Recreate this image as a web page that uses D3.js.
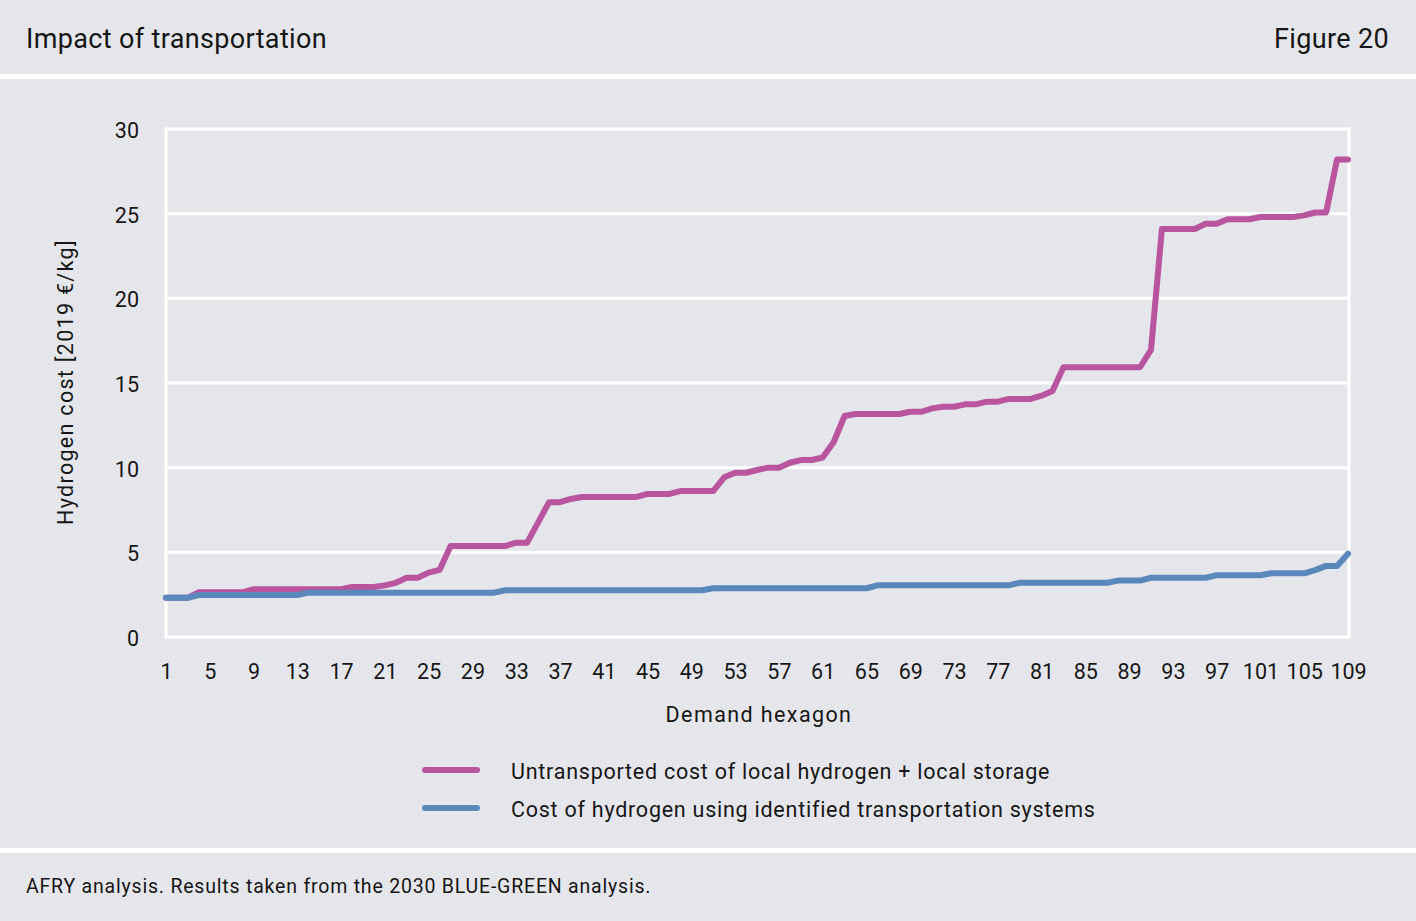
<!DOCTYPE html>
<html>
<head>
<meta charset="utf-8">
<script src="https://cdnjs.cloudflare.com/ajax/libs/d3/7.8.5/d3.min.js"></script>
<style>
  body { margin: 0; background: #e5e6eb; }
  svg { display: block; font-family: Roboto, "Liberation Sans", sans-serif; }
</style>
</head>
<body>
<svg></svg>
<script>
// demand hexagons 1..109
const hexagons = d3.range(1, 110);

const untransported = [
  2.32, 2.32, 2.32, 2.64, 2.64, 2.64, 2.64, 2.64, 2.82, 2.82,
  2.82, 2.82, 2.82, 2.82, 2.82, 2.82, 2.82, 2.95, 2.95, 2.95,
  3.05, 3.2, 3.5, 3.5, 3.8, 3.96, 5.37, 5.37, 5.37, 5.37,
  5.37, 5.37, 5.57, 5.57, 6.77, 7.96, 7.96, 8.15, 8.27, 8.27,
  8.27, 8.27, 8.27, 8.27, 8.45, 8.45, 8.45, 8.62, 8.62, 8.62,
  8.62, 9.43, 9.7, 9.7, 9.86, 10.0, 10.0, 10.29, 10.45, 10.45,
  10.6, 11.5, 13.05, 13.17, 13.17, 13.17, 13.17, 13.17, 13.3, 13.3,
  13.5, 13.6, 13.6, 13.74, 13.74, 13.9, 13.9, 14.06, 14.06, 14.06,
  14.25, 14.53, 15.93, 15.93, 15.93, 15.93, 15.93, 15.93, 15.93, 15.93,
  16.95, 24.1, 24.1, 24.1, 24.1, 24.4, 24.4, 24.67, 24.67, 24.67,
  24.8, 24.8, 24.8, 24.8, 24.9, 25.07, 25.07, 28.2, 28.2
];

const transported = [
  2.32, 2.32, 2.32, 2.48, 2.48, 2.48, 2.48, 2.48, 2.48, 2.48,
  2.48, 2.48, 2.48, 2.62, 2.62, 2.62, 2.62, 2.62, 2.62, 2.62,
  2.62, 2.62, 2.62, 2.62, 2.62, 2.62, 2.62, 2.62, 2.62, 2.62,
  2.62, 2.76, 2.76, 2.76, 2.76, 2.76, 2.76, 2.76, 2.76, 2.76,
  2.76, 2.76, 2.76, 2.76, 2.76, 2.76, 2.76, 2.76, 2.76, 2.76,
  2.88, 2.88, 2.88, 2.88, 2.88, 2.88, 2.88, 2.88, 2.88, 2.88,
  2.88, 2.88, 2.88, 2.88, 2.88, 3.05, 3.05, 3.05, 3.05, 3.05,
  3.05, 3.05, 3.05, 3.05, 3.05, 3.05, 3.05, 3.05, 3.2, 3.2,
  3.2, 3.2, 3.2, 3.2, 3.2, 3.2, 3.2, 3.33, 3.33, 3.33,
  3.5, 3.5, 3.5, 3.5, 3.5, 3.5, 3.65, 3.65, 3.65, 3.65,
  3.65, 3.76, 3.76, 3.76, 3.76, 3.95, 4.2, 4.2, 4.92
];

const xTicks = [1, 5, 9, 13, 17, 21, 25, 29, 33, 37, 41, 45, 49, 53, 57,
  61, 65, 69, 73, 77, 81, 85, 89, 93, 97, 101, 105, 109];
const yTicks = [0, 5, 10, 15, 20, 25, 30];

const seriesNames = [
  'Untransported cost of local hydrogen + local storage',
  'Cost of hydrogen using identified transportation systems'
];
const seriesColors = ['#b9549e', '#5b88bb'];

const width = 1416;
const height = 921;
const plot = {left: 166, right: 1348, top: 129, bottom: 637};
const ink = '#161616';

const svg = d3.select('svg')
  .attr('width', width)
  .attr('height', height);

svg.append('rect')
  .attr('width', width)
  .attr('height', height)
  .attr('fill', '#e5e6eb');

// header and footer bands
svg.append('rect').attr('x', 0).attr('y', 74).attr('width', width).attr('height', 5).attr('fill', '#fff');
svg.append('rect').attr('x', 0).attr('y', 848).attr('width', width).attr('height', 5).attr('fill', '#fff');

svg.append('text')
  .attr('x', 26).attr('y', 48)
  .attr('font-size', 27)
  .attr('letter-spacing', 0.35)
  .attr('fill', ink)
  .text('Impact of transportation');

svg.append('text')
  .attr('x', 1389).attr('y', 48)
  .attr('text-anchor', 'end')
  .attr('font-size', 27)
  .attr('letter-spacing', 0.35)
  .attr('fill', ink)
  .text('Figure 20');

svg.append('text')
  .attr('x', 26).attr('y', 893)
  .attr('font-size', 19.5)
  .attr('letter-spacing', 0.8)
  .attr('fill', ink)
  .text('AFRY analysis. Results taken from the 2030 BLUE-GREEN analysis.');

const xScale = d3.scaleLinear().domain([1, 109]).range([plot.left, plot.right]);
const yScale = d3.scaleLinear().domain([0, 30]).range([plot.bottom, plot.top]);

const chart = svg.append('g');

// grid
chart.append('g')
  .selectAll('line')
  .data(yTicks)
  .enter()
  .append('line')
  .attr('x1', plot.left - 1)
  .attr('x2', plot.right + 1)
  .attr('y1', d => yScale(d))
  .attr('y2', d => yScale(d))
  .attr('stroke', '#fff')
  .attr('stroke-width', 3);

chart.append('line')
  .attr('x1', plot.left).attr('x2', plot.left)
  .attr('y1', plot.top - 1.5).attr('y2', plot.bottom + 1.5)
  .attr('stroke', '#fff').attr('stroke-width', 3);
chart.append('line')
  .attr('x1', plot.right + 1).attr('x2', plot.right + 1)
  .attr('y1', plot.top - 1.5).attr('y2', plot.bottom + 1.5)
  .attr('stroke', '#fff').attr('stroke-width', 3);

// axes
const yAxis = chart.append('g')
  .attr('transform', `translate(${plot.left - 27}, 1.5)`)
  .call(d3.axisLeft(yScale).tickValues(yTicks).tickSize(0).tickPadding(0));
yAxis.select('.domain').remove();
yAxis.selectAll('text')
  .attr('font-size', 21.5)
  .attr('font-family', 'Roboto, sans-serif')
  .attr('fill', ink);

const xAxis = chart.append('g')
  .attr('transform', `translate(0, ${plot.bottom + 27})`)
  .call(d3.axisBottom(xScale).tickValues(xTicks).tickSize(0).tickPadding(0));
xAxis.select('.domain').remove();
xAxis.selectAll('text')
  .attr('font-size', 21.5)
  .attr('font-family', 'Roboto, sans-serif')
  .attr('fill', ink);

svg.append('text')
  .attr('x', (plot.left + plot.right) / 2 + 2)
  .attr('y', 722)
  .attr('text-anchor', 'middle')
  .attr('font-size', 21.5)
  .attr('letter-spacing', 1.4)
  .attr('fill', ink)
  .text('Demand hexagon');

svg.append('text')
  .attr('transform', `translate(73, 382) rotate(-90)`)
  .attr('text-anchor', 'middle')
  .attr('font-size', 21.5)
  .attr('letter-spacing', 1.3)
  .attr('fill', ink)
  .text('Hydrogen cost [2019 €/kg]');

// lines
const line = d3.line()
  .x((d, i) => xScale(hexagons[i]))
  .y(d => yScale(d));

[untransported, transported].forEach((values, k) => {
  chart.append('path')
    .datum(values)
    .attr('d', line)
    .attr('fill', 'none')
    .attr('stroke', seriesColors[k])
    .attr('stroke-width', 6)
    .attr('stroke-linejoin', 'round')
    .attr('stroke-linecap', 'round');
});

// legend
const legend = svg.append('g')
  .selectAll('g')
  .data(seriesNames)
  .enter()
  .append('g')
  .attr('transform', (d, i) => `translate(0, ${770 + i * 38})`);

legend.append('line')
  .attr('x1', 425).attr('x2', 477)
  .attr('stroke', (d, i) => seriesColors[i])
  .attr('stroke-width', 6)
  .attr('stroke-linecap', 'round');

legend.append('text')
  .attr('x', 511)
  .attr('y', 9)
  .attr('font-size', 21.5)
  .attr('letter-spacing', 0.75)
  .attr('fill', ink)
  .text(d => d);
</script>
</body>
</html>
